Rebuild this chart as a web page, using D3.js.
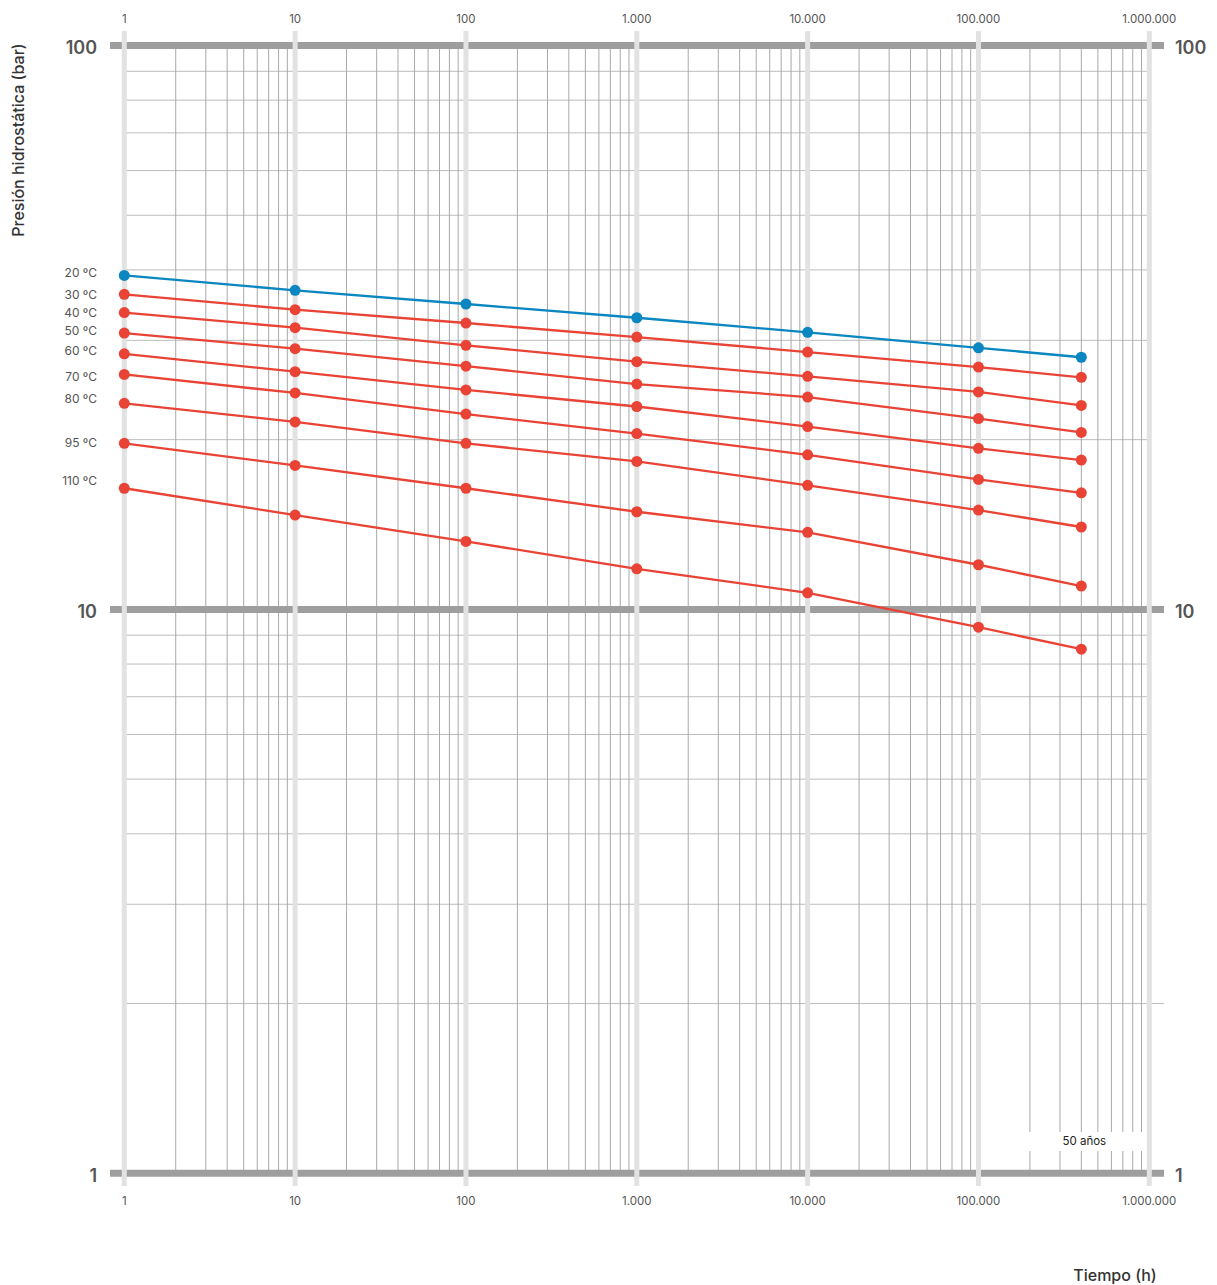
<!DOCTYPE html>
<html><head><meta charset="utf-8">
<script src="https://cdn.jsdelivr.net/npm/d3@7"></script>
<style>body{margin:0;background:#fff;font-family:Inter,"Open Sans",sans-serif;}</style>
</head><body><svg id="c" width="1217" height="1285"></svg>
<script>
const hours = [1, 10, 100, 1000, 10000, 100000, 400000];
const temps = ["20 ºC","30 ºC","40 ºC","50 ºC","60 ºC","70 ºC","80 ºC","95 ºC","110 ºC"];
const s20 = [39.1, 36.8, 34.8, 32.9, 31.0, 29.1, 28.0];
const s30 = [36.2, 34.0, 32.2, 30.4, 28.6, 26.9, 25.8];
const s40 = [33.6, 31.6, 29.4, 27.5, 25.9, 24.3, 23.0];
const s50 = [30.9, 29.0, 27.0, 25.1, 23.8, 21.8, 20.6];
const s60 = [28.4, 26.4, 24.5, 22.9, 21.1, 19.3, 18.4];
const s70 = [26.1, 24.2, 22.2, 20.5, 18.8, 17.0, 16.1];
const s80 = [23.2, 21.5, 19.7, 18.3, 16.6, 15.0, 14.0];
const s95 = [19.7, 18.0, 16.4, 14.9, 13.7, 12.0, 11.0];
const s110 = [16.4, 14.7, 13.2, 11.8, 10.7, 9.3, 8.5];
const series = [s20, s30, s40, s50, s60, s70, s80, s95, s110];
const labelValues = [39.5, 36.2, 33.6, 31.2, 28.7, 25.9, 23.6, 19.75, 16.9];
const xTicks = [1, 10, 100, 1000, 10000, 100000, 1000000];
const yMajor = [1, 10, 100];
const markerLabel = "50 años";
const xTitle = "Tiempo (h)";
const yTitle = "Presión hidrostática (bar)";

const svg = d3.select("#c");
const x = d3.scaleLog().domain([1, 1e6]).range([124.3, 1149.3]);
const y = d3.scaleLog().domain([1, 100]).range([1173.3, 45.5]);
const loc = d3.formatLocale({decimal: ",", thousands: ".", grouping: [3], currency: ["", "€"]});
const fmt = loc.format(",d");

const minorX = [], minorY = [];
for (let e = 0; e < 6; e++) for (let m = 2; m <= 9; m++) minorX.push(m * Math.pow(10, e));
for (let e = 0; e < 2; e++) for (let m = 2; m <= 9; m++) minorY.push(m * Math.pow(10, e));

const g = svg.append("g");
g.selectAll(".mh").data(minorY).join("line")
  .attr("x1", x(1)).attr("x2", d => d === 2 ? 1164 : x(1e6)).attr("y1", d => y(d)).attr("y2", d => y(d))
  .attr("stroke", "#bdbdbd").attr("stroke-width", 1);
g.selectAll(".mv").data(minorX).join("line")
  .attr("x1", d => x(d)).attr("x2", d => x(d)).attr("y1", y(100)).attr("y2", y(1))
  .attr("stroke", "#a9a9a9").attr("stroke-width", 1);
g.selectAll(".Mh").data(yMajor).join("line")
  .attr("x1", 110).attr("x2", 1164).attr("y1", d => y(d)).attr("y2", d => y(d))
  .attr("stroke", "#9e9e9e").attr("stroke-width", 7);
g.selectAll(".Mv").data(xTicks).join("line")
  .attr("x1", d => x(d)).attr("x2", d => x(d)).attr("y1", 31).attr("y2", 1186)
  .attr("stroke", "#e2e2e2").attr("stroke-width", 5);

[19, 1201].forEach(ty => {
  svg.append("g").selectAll("text").data(xTicks).join("text")
    .attr("x", d => x(d)).attr("y", ty).attr("text-anchor", "middle").attr("dy", "0.35em")
    .attr("font-size", 11.5).attr("fill", "#555").text(d => fmt(d));
});
svg.append("g").selectAll("text").data(yMajor).join("text")
  .attr("x", 97).attr("y", d => y(d) + 2).attr("dy", "0.36em").attr("text-anchor", "end")
  .attr("font-size", 18).attr("font-weight", 600).attr("fill", "#555").text(d => d);
svg.append("g").selectAll("text").data(yMajor).join("text")
  .attr("x", 1175).attr("y", d => y(d) + 2).attr("dy", "0.36em").attr("text-anchor", "start")
  .attr("font-size", 18).attr("font-weight", 600).attr("fill", "#555").text(d => d);

svg.append("rect").attr("x", 1029).attr("y", 1132).attr("width", 114).attr("height", 19).attr("fill", "#fff");
svg.append("text").attr("x", x(400000) + 3).attr("y", 1141).attr("dy", "0.35em").attr("text-anchor", "middle")
  .attr("font-size", 11.5).attr("fill", "#222").text(markerLabel);

const line = d3.line().x((d, i) => x(hours[i])).y(d => y(d));
series.forEach((s, k) => {
  const col = k === 0 ? "#0a86c1" : "#e94335";
  svg.append("path").datum(s).attr("d", line).attr("fill", "none").attr("stroke", col).attr("stroke-width", 2.3);
  svg.append("g").selectAll("circle").data(s).join("circle")
    .attr("cx", (d, i) => x(hours[i])).attr("cy", d => y(d)).attr("r", 5.5).attr("fill", col);
});
svg.append("g").selectAll("text").data(temps).join("text")
  .attr("x", 97).attr("y", (d, i) => y(labelValues[i])).attr("dy", "0.35em").attr("text-anchor", "end")
  .attr("font-size", 12).attr("fill", "#555").text(d => d);

svg.append("text").attr("x", 1115).attr("y", 1275).attr("dy", "0.35em").attr("text-anchor", "middle")
  .attr("font-size", 16).attr("font-weight", 500).attr("fill", "#333").text(xTitle);
svg.append("text").attr("transform", "translate(18,140) rotate(-90)").attr("dy", "0.35em").attr("text-anchor", "middle")
  .attr("font-size", 16).attr("font-weight", 500).attr("fill", "#333").text(yTitle);
</script></body></html>
